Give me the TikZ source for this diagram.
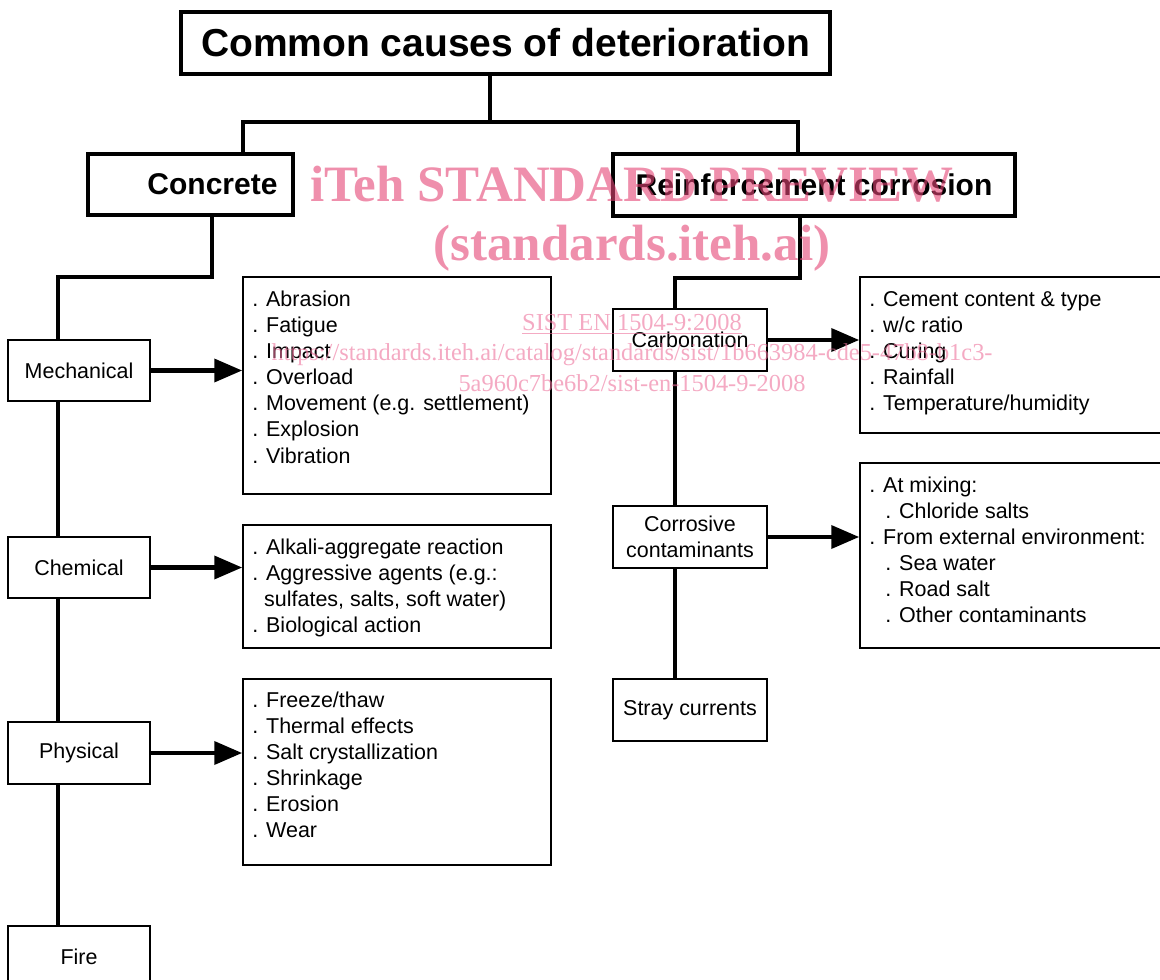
\documentclass[tikz,border=0pt]{standalone}
\usepackage{fontspec}
\setmainfont{Liberation Sans}
\newfontfamily\wmfont{Liberation Serif}
\usetikzlibrary{arrows.meta}
\definecolor{wmbig}{RGB}{228,68,117}
\definecolor{wmsmall}{RGB}{237,113,155}
\newcommand\fs[2]{\fontsize{#1}{#2}\selectfont}
\newcommand\mybox[7]{\node[#1, minimum width={(#4-(#2))*0.75pt}, minimum height={(#5-(#3))*0.75pt}] (#6) at ({(#2+#4)/2},{(#3+#5)/2}) {#7};}
\newcommand\ind{\hspace*{12pt}}
\newcommand\cont{\hphantom{.\ }}
\begin{document}
\begin{tikzpicture}[x=0.75pt,y=-0.75pt,
  thickbox/.style={draw, line width=3pt, inner sep=0pt},
  thinbox/.style={draw, line width=1.1pt, inner sep=0pt},
  conn/.style={line width=3pt},
  arr/.style={line width=3.5pt, -{Triangle[length=21pt,width=17pt]}},
  listtext/.style={anchor=north west, inner sep=0pt, align=left, font=\fs{16.1}{19.6}},
  boxtext/.style={font=\fs{16.1}{19.6}, align=center},
  wmbigtext/.style={anchor=base, inner sep=0pt, text=wmbig, text opacity=0.6, font=\wmfont\bfseries\fs{38.25}{45}},
  wmsmalltext/.style={anchor=base, inner sep=0pt, text=wmsmall, text opacity=0.6, font=\wmfont\fs{18.3}{22}}]
\useasboundingbox (0,0) rectangle (1160,980);
\clip (0,0) rectangle (1160,980);

% main boxes
\mybox{thickbox,font=\bfseries\fs{29.25}{35}}{181}{12}{830}{74}{title}{Common causes of deterioration}
\mybox{thickbox,font=\bfseries\fs{22.5}{27}}{88}{154}{293}{215}{conc}{\hspace*{33pt}Concrete}
\mybox{thickbox,font=\bfseries\fs{22.5}{27}}{613}{154}{1015}{216}{reinf}{Reinforcement corrosion}

% concrete categories
\mybox{thinbox,boxtext}{8}{340}{150}{401}{mech}{Mechanical}
\mybox{thinbox,boxtext}{8}{537}{150}{598}{chem}{Chemical}
\mybox{thinbox,boxtext}{8}{722}{150}{784}{phys}{Physical}
\mybox{thinbox,boxtext}{8}{926}{150}{988}{fire}{Fire}

% reinforcement categories
\mybox{thinbox,boxtext}{613}{309}{767}{371}{carb}{Carbonation}
\mybox{thinbox,boxtext}{613}{506}{767}{568}{corr}{Corrosive\\contaminants}
\mybox{thinbox,boxtext}{613}{679}{767}{741}{stray}{Stray currents}

% list boxes
\mybox{thinbox}{243}{277}{551}{494}{mlist}{}
\mybox{thinbox}{243}{525}{551}{648}{clist}{}
\mybox{thinbox}{243}{679}{551}{865}{plist}{}
\mybox{thinbox}{860}{277}{1175}{433}{cblist}{}
\mybox{thinbox}{860}{463}{1175}{648}{colist}{}

% list texts
\node[listtext] (mtext) at (252,287.7) {\strut. Abrasion\\. Fatigue\\. Impact\\. Overload\\. Movement (e.g. settlement)\\. Explosion\\. Vibration};
\node[listtext] (ctext) at (252,535.7) {\strut. Alkali-aggregate reaction\\. Aggressive agents (e.g.:\\\cont sulfates, salts, soft water)\\. Biological action};
\node[listtext] (ptext) at (252,688.7) {\strut. Freeze/thaw\\. Thermal effects\\. Salt crystallization\\. Shrinkage\\. Erosion\\. Wear};
\node[listtext] (cbtext) at (869,287.7) {\strut. Cement content \& type\\. w/c ratio\\. Curing\\. Rainfall\\. Temperature/humidity};
\node[listtext] (cotext) at (869,473.7) {\strut. At mixing:\\\ind. Chloride salts\\. From external environment:\\\ind. Sea water\\\ind. Road salt\\\ind. Other contaminants};

% connector joints
\coordinate (jt) at (490,122);
\coordinate (jl) at (243,122);
\coordinate (jr) at (798,122);
\coordinate (cl1) at (212,277);
\coordinate (cl2) at (58,277);
\coordinate (rr1) at (800,278);
\coordinate (rr2) at (675,278);

\draw[conn] (title.south -| jt) -- (jt);
\draw[conn] (jl |- conc.north) -- (jl) -- (jr) -- (jr |- reinf.north);
\draw[conn] (cl1 |- conc.south) -- (cl1) -- (cl2) -- (cl2 |- mech.north);
\draw[conn] (cl2 |- mech.south) -- (cl2 |- chem.north);
\draw[conn] (cl2 |- chem.south) -- (cl2 |- phys.north);
\draw[conn] (cl2 |- phys.south) -- (cl2 |- fire.north);
\draw[conn] (rr1 |- reinf.south) -- (rr1) -- (rr2) -- (rr2 |- carb.north);
\draw[conn] (rr2 |- carb.south) -- (rr2 |- corr.north);
\draw[conn] (rr2 |- corr.south) -- (rr2 |- stray.north);

% arrows
\draw[arr] (mech.east) -- (mech.east -| mlist.west);
\draw[arr] (chem.east) -- (chem.east -| clist.west);
\draw[arr] (phys.east) -- (phys.east -| plist.west);
\draw[arr] (carb.east) -- (carb.east -| cblist.west);
\draw[arr] (corr.east) -- (corr.east -| colist.west);

% watermark
\node[wmbigtext] (wm1) at (632,202) {iTeh STANDARD PREVIEW};
\node[wmbigtext] (wm2) at (632,261) {(standards.iteh.ai)};
\node[wmsmalltext] (wm3) at (632,331) {\underline{SIST EN 1504-9:2008}};
\node[wmsmalltext] (wm4) at (632,361) {https://standards.iteh.ai/catalog/standards/sist/1b663984-cde5-47b8-b1c3-};
\node[wmsmalltext] (wm5) at (632,392) {5a960c7be6b2/sist-en-1504-9-2008};
\end{tikzpicture}
\end{document}
